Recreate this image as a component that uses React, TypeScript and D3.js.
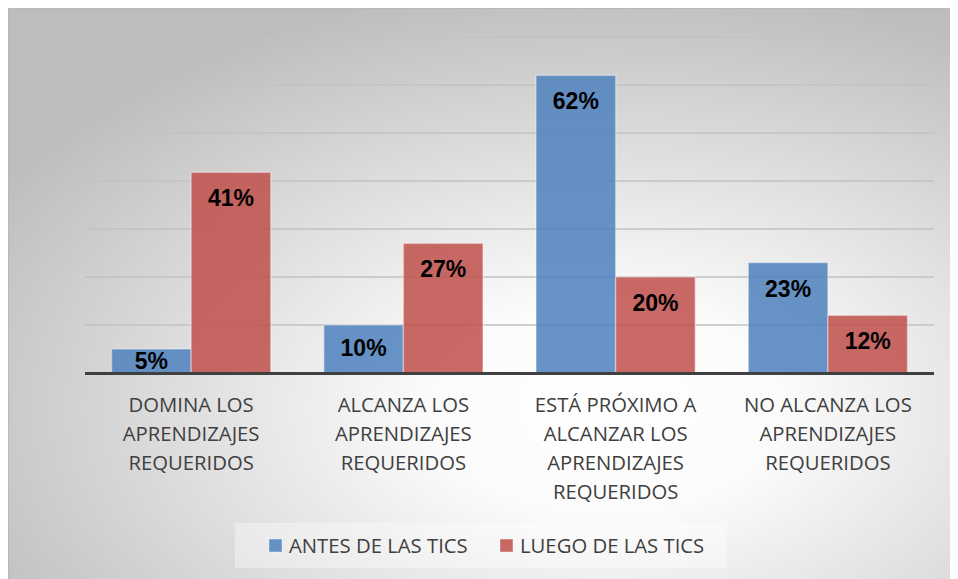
import React, { useEffect, useRef } from 'react';
import * as d3 from 'd3';

// categories, each split into the lines shown under the axis
const categories = ['DOMINA', 'ALCANZA', 'PROXIMO', 'NO ALCANZA'];
const categoryLines = [
  ['DOMINA LOS', 'APRENDIZAJES', 'REQUERIDOS'],
  ['ALCANZA LOS', 'APRENDIZAJES', 'REQUERIDOS'],
  ['ESTÁ PRÓXIMO A', 'ALCANZAR LOS', 'APRENDIZAJES', 'REQUERIDOS'],
  ['NO ALCANZA LOS', 'APRENDIZAJES', 'REQUERIDOS'],
];
const seriesNames = ['ANTES DE LAS TICS', 'LUEGO DE LAS TICS'];
const antes = [5, 10, 62, 23];
const luego = [41.8, 27, 20, 12];
const antesLabels = ['5%', '10%', '62%', '23%'];
const luegoLabels = ['41%', '27%', '20%', '12%'];
const yTicks = [0, 10, 20, 30, 40, 50, 60, 70];

const colors = ['#4F81BD', '#C0504D'];

const W = 950;
const H = 571;

const App = () => {
  const svgRef = useRef(null);

  useEffect(() => {
    const svg = d3.select(svgRef.current);
    svg.selectAll('*').remove();

    const left = 77, right = 926, top = 29, base = 365;

    const defs = svg.append('defs');
    const grad = defs.append('radialGradient')
      .attr('id', 'bg')
      .attr('cx', '0.63').attr('cy', '0.7').attr('r', '0.75')
      .attr('fx', '0.63').attr('fy', '0.7');
    grad.append('stop').attr('offset', '0').attr('stop-color', '#ffffff');
    grad.append('stop').attr('offset', '0.25').attr('stop-color', '#fbfbfb');
    grad.append('stop').attr('offset', '1').attr('stop-color', '#bdbdbd');

    svg.append('rect')
      .attr('x', 0).attr('y', 0).attr('width', W).attr('height', H)
      .attr('fill', 'url(#bg)');
    svg.append('path')
      .attr('d', `M0.5,${H} V0.5 H${W}`)
      .attr('fill', 'none').attr('stroke', '#b8b8b8').attr('stroke-width', 1);

    const y = d3.scaleLinear().domain([0, 70]).range([base, top]);
    const x0 = d3.scaleBand().domain(categories).range([left, right])
      .paddingInner(0.25).paddingOuter(0.125);
    const x1 = d3.scaleBand().domain(seriesNames).range([0, x0.bandwidth()]);

    // gridlines
    svg.append('g').selectAll('line')
      .data(yTicks.filter(t => t > 0))
      .enter().append('line')
      .attr('x1', left).attr('x2', right)
      .attr('y1', d => y(d)).attr('y2', d => y(d))
      .attr('stroke', '#c2c2c2').attr('stroke-width', 1.5);

    const series = [
      { name: seriesNames[0], values: antes, labels: antesLabels },
      { name: seriesNames[1], values: luego, labels: luegoLabels },
    ];

    series.forEach((s, si) => {
      const g = svg.append('g');
      g.selectAll('rect')
        .data(s.values)
        .enter().append('rect')
        .attr('x', (d, i) => x0(categories[i]) + x1(s.name))
        .attr('y', d => y(d))
        .attr('width', x1.bandwidth())
        .attr('height', d => base - y(d))
        .attr('fill', colors[si])
        .attr('fill-opacity', 0.86)
        .attr('stroke', '#ffffff')
        .attr('stroke-opacity', 0.35)
        .attr('stroke-width', 1.5);

      g.selectAll('text')
        .data(s.values)
        .enter().append('text')
        .attr('x', (d, i) => x0(categories[i]) + x1(s.name) + x1.bandwidth() / 2)
        .attr('y', d => {
          const t = y(d);
          if (base - t < 30) return (t + base) / 2 + 8;
          return Math.min(t + 34, base - 17);
        })
        .attr('text-anchor', 'middle')
        .style('font-family', '"Liberation Sans", Arial, sans-serif')
        .style('font-weight', 'bold')
        .style('font-size', '23px')
        .attr('fill', '#000')
        .text((d, i) => s.labels[i]);
    });

    // baseline
    svg.append('line')
      .attr('x1', left).attr('x2', right)
      .attr('y1', base + 0.5).attr('y2', base + 0.5)
      .attr('stroke', '#404040').attr('stroke-width', 3);

    // category labels
    const cat = svg.append('g');
    categories.forEach((c, i) => {
      const t = cat.append('text')
        .attr('x', x0(c) + x0.bandwidth() / 2)
        .attr('y', base + 39)
        .attr('text-anchor', 'middle')
        .style('font-family', '"Open Sans", Lato, sans-serif')
        .style('font-size', '20.3px')
        .attr('fill', '#404040');
      categoryLines[i].forEach((line, li) => {
        t.append('tspan')
          .attr('x', x0(c) + x0.bandwidth() / 2)
          .attr('dy', li === 0 ? 0 : 29)
          .text(line);
      });
    });

    // legend
    const lg = svg.append('g');
    lg.append('rect')
      .attr('x', 227).attr('y', 515).attr('width', 492).attr('height', 45)
      .attr('fill', '#ffffff').attr('fill-opacity', 0.35);
    const legendX = [261, 492];
    seriesNames.forEach((n, i) => {
      lg.append('rect')
        .attr('x', legendX[i]).attr('y', 531).attr('width', 13).attr('height', 13)
        .attr('fill', colors[i]).attr('fill-opacity', 0.86)
        .attr('stroke', '#ffffff').attr('stroke-opacity', 0.4);
      lg.append('text')
        .attr('x', legendX[i] + 20).attr('y', 545)
        .style('font-family', '"Open Sans", Lato, sans-serif')
        .style('font-size', '20.3px')
        .attr('fill', '#404040')
        .text(n);
    });
  }, []);

  return <svg ref={svgRef} width={W} height={H} style={{ display: 'block' }}></svg>;
};

export default App;
